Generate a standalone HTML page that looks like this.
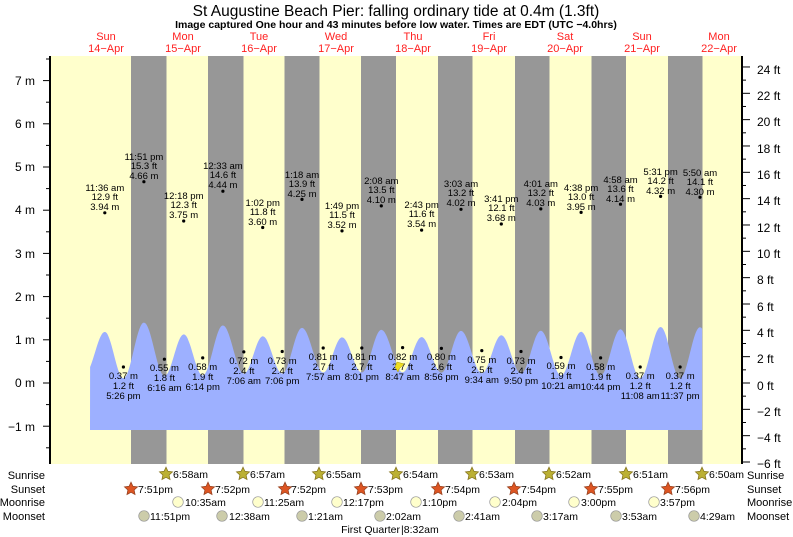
<!DOCTYPE html>
<html><head><meta charset="utf-8"><style>
body{margin:0;background:#fff;}
svg{display:block;font-family:"Liberation Sans",sans-serif;}
.hl text,.lo text{font-size:9.5px;text-anchor:middle;fill:#000;}
.day{fill:#ff2020;font-size:11px;text-anchor:middle;}
.ax{font-size:12px;fill:#000;}
.row{font-size:10.5px;fill:#000;}
.rl{font-size:11px;fill:#000;}
</style></head><body>
<svg id="s" width="793" height="537" viewBox="0 0 793 537" xmlns="http://www.w3.org/2000/svg">
<rect x="50" y="56" width="692" height="408" fill="#ffffcc"/>
<g fill="#979797">
<rect x="131" y="56" width="35.5" height="408"/><rect x="208" y="56" width="35.5" height="408"/>
<rect x="284.5" y="56" width="35" height="408"/><rect x="361" y="56" width="35" height="408"/>
<rect x="438" y="56" width="34.5" height="408"/><rect x="515" y="56" width="34.5" height="408"/>
<rect x="591.5" y="56" width="34.5" height="408"/><rect x="668" y="56" width="34.5" height="408"/>
</g>
<path id="tide" fill="#9db0ff" d=""/>
<line x1="50" y1="56" x2="50" y2="464" stroke="#000" stroke-width="2"/>
<line x1="742" y1="56" x2="742" y2="464" stroke="#000" stroke-width="2"/>
<g id="ticks" stroke="#000" stroke-width="1"></g>
<g class="ax" text-anchor="end">
<text x="35" y="85">7 m</text><text x="35" y="128">6 m</text><text x="35" y="171">5 m</text><text x="35" y="214">4 m</text><text x="35" y="258">3 m</text><text x="35" y="301">2 m</text><text x="35" y="344">1 m</text><text x="35" y="387">0 m</text><text x="35" y="431">−1 m</text>
</g>
<g class="ax">
<text x="757" y="74">24 ft</text><text x="757" y="100">22 ft</text><text x="757" y="126">20 ft</text><text x="757" y="153">18 ft</text><text x="757" y="179">16 ft</text><text x="757" y="205">14 ft</text><text x="757" y="232">12 ft</text><text x="757" y="258">10 ft</text><text x="757" y="284">8 ft</text><text x="757" y="311">6 ft</text><text x="757" y="337">4 ft</text><text x="757" y="363">2 ft</text><text x="757" y="390">0 ft</text><text x="757" y="416">−2 ft</text><text x="757" y="442">−4 ft</text><text x="757" y="468">−6 ft</text>
</g>
<text x="396" y="16" font-size="15.5" text-anchor="middle">St Augustine Beach Pier: falling  ordinary tide at 0.4m (1.3ft)</text>
<text x="396" y="28" font-size="10.5" font-weight="bold" text-anchor="middle">Image captured One hour and 43 minutes before low water. Times are EDT (UTC −4.0hrs)</text>
<g class="day">
<text x="106" y="40">Sun</text><text x="106" y="52">14−Apr</text>
<text x="183" y="40">Mon</text><text x="183" y="52">15−Apr</text>
<text x="259" y="40">Tue</text><text x="259" y="52">16−Apr</text>
<text x="336" y="40">Wed</text><text x="336" y="52">17−Apr</text>
<text x="413" y="40">Thu</text><text x="413" y="52">18−Apr</text>
<text x="489" y="40">Fri</text><text x="489" y="52">19−Apr</text>
<text x="565" y="40">Sat</text><text x="565" y="52">20−Apr</text>
<text x="642" y="40">Sun</text><text x="642" y="52">21−Apr</text>
<text x="719" y="40">Mon</text><text x="719" y="52">22−Apr</text>
</g>
<g class="hl">
<circle cx="104.8" cy="212.8" r="1.6"/><text x="104.8" y="191">11:36 am</text><text x="104.8" y="200">12.9 ft</text><text x="104.8" y="210">3.94 m</text>
<circle cx="143.9" cy="181.7" r="1.6"/><text x="143.9" y="160">11:51 pm</text><text x="143.9" y="169">15.3 ft</text><text x="143.9" y="179">4.66 m</text>
<circle cx="183.7" cy="221" r="1.6"/><text x="183.7" y="199">12:18 pm</text><text x="183.7" y="208">12.3 ft</text><text x="183.7" y="218">3.75 m</text>
<circle cx="222.9" cy="191.2" r="1.6"/><text x="222.9" y="169">12:33 am</text><text x="222.9" y="178">14.6 ft</text><text x="222.9" y="188">4.44 m</text>
<circle cx="262.7" cy="227.5" r="1.6"/><text x="262.7" y="206">1:02 pm</text><text x="262.7" y="215">11.8 ft</text><text x="262.7" y="225">3.60 m</text>
<circle cx="302" cy="199.4" r="1.6"/><text x="302" y="178">1:18 am</text><text x="302" y="187">13.9 ft</text><text x="302" y="197">4.25 m</text>
<circle cx="342" cy="230.9" r="1.6"/><text x="342" y="209">1:49 pm</text><text x="342" y="218">11.5 ft</text><text x="342" y="228">3.52 m</text>
<circle cx="381.3" cy="205.9" r="1.6"/><text x="381.3" y="184">2:08 am</text><text x="381.3" y="193">13.5 ft</text><text x="381.3" y="203">4.10 m</text>
<circle cx="421.6" cy="230.1" r="1.6"/><text x="421.6" y="208">2:43 pm</text><text x="421.6" y="217">11.6 ft</text><text x="421.6" y="227">3.54 m</text>
<circle cx="461" cy="209.3" r="1.6"/><text x="461" y="187">3:03 am</text><text x="461" y="196">13.2 ft</text><text x="461" y="206">4.02 m</text>
<circle cx="501.3" cy="224" r="1.6"/><text x="501.3" y="202">3:41 pm</text><text x="501.3" y="211">12.1 ft</text><text x="501.3" y="221">3.68 m</text>
<circle cx="540.8" cy="208.9" r="1.6"/><text x="540.8" y="187">4:01 am</text><text x="540.8" y="196">13.2 ft</text><text x="540.8" y="206">4.03 m</text>
<circle cx="581.1" cy="212.4" r="1.6"/><text x="581.1" y="191">4:38 pm</text><text x="581.1" y="200">13.0 ft</text><text x="581.1" y="210">3.95 m</text>
<circle cx="620.5" cy="204.2" r="1.6"/><text x="620.5" y="183">4:58 am</text><text x="620.5" y="192">13.6 ft</text><text x="620.5" y="202">4.14 m</text>
<circle cx="660.6" cy="196.4" r="1.6"/><text x="660.6" y="175">5:31 pm</text><text x="660.6" y="184">14.2 ft</text><text x="660.6" y="194">4.32 m</text>
<circle cx="700" cy="197.2" r="1.6"/><text x="700" y="176">5:50 am</text><text x="700" y="185">14.1 ft</text><text x="700" y="195">4.30 m</text>
</g>
<g class="lo">
<circle cx="123.4" cy="367" r="1.6"/><text x="123.4" y="379">0.37 m</text><text x="123.4" y="389">1.2 ft</text><text x="123.4" y="399">5:26 pm</text>
<circle cx="164.4" cy="359.2" r="1.6"/><text x="164.4" y="371">0.55 m</text><text x="164.4" y="381">1.8 ft</text><text x="164.4" y="391">6:16 am</text>
<circle cx="202.7" cy="357.9" r="1.6"/><text x="202.7" y="370">0.58 m</text><text x="202.7" y="380">1.9 ft</text><text x="202.7" y="390">6:14 pm</text>
<circle cx="243.8" cy="351.9" r="1.6"/><text x="243.8" y="364">0.72 m</text><text x="243.8" y="374">2.4 ft</text><text x="243.8" y="384">7:06 am</text>
<circle cx="282.2" cy="351.5" r="1.6"/><text x="282.2" y="364">0.73 m</text><text x="282.2" y="374">2.4 ft</text><text x="282.2" y="384">7:06 pm</text>
<circle cx="323.2" cy="348" r="1.6"/><text x="323.2" y="360">0.81 m</text><text x="323.2" y="370">2.7 ft</text><text x="323.2" y="380">7:57 am</text>
<circle cx="361.8" cy="348" r="1.6"/><text x="361.8" y="360">0.81 m</text><text x="361.8" y="370">2.7 ft</text><text x="361.8" y="380">8:01 pm</text>
<circle cx="402.6" cy="347.6" r="1.6"/><text x="402.6" y="360">0.82 m</text><text x="402.6" y="370">2.7 ft</text><text x="402.6" y="380">8:47 am</text>
<circle cx="441.4" cy="348.4" r="1.6"/><text x="441.4" y="360">0.80 m</text><text x="441.4" y="370">2.6 ft</text><text x="441.4" y="380">8:56 pm</text>
<circle cx="481.8" cy="350.6" r="1.6"/><text x="481.8" y="363">0.75 m</text><text x="481.8" y="373">2.5 ft</text><text x="481.8" y="383">9:34 am</text>
<circle cx="521" cy="351.5" r="1.6"/><text x="521" y="364">0.73 m</text><text x="521" y="374">2.4 ft</text><text x="521" y="384">9:50 pm</text>
<circle cx="561" cy="357.5" r="1.6"/><text x="561" y="369">0.59 m</text><text x="561" y="379">1.9 ft</text><text x="561" y="389">10:21 am</text>
<circle cx="600.6" cy="357.9" r="1.6"/><text x="600.6" y="370">0.58 m</text><text x="600.6" y="380">1.9 ft</text><text x="600.6" y="390">10:44 pm</text>
<circle cx="640.2" cy="367" r="1.6"/><text x="640.2" y="379">0.37 m</text><text x="640.2" y="389">1.2 ft</text><text x="640.2" y="399">11:08 am</text>
<circle cx="680.1" cy="367" r="1.6"/><text x="680.1" y="379">0.37 m</text><text x="680.1" y="389">1.2 ft</text><text x="680.1" y="399">11:37 pm</text>
</g>
<polygon points="397,362 404,364 399,369 398,372 395,367" fill="#eedd22" stroke="#aa9900" stroke-width="0.5"/>
<g class="rl" text-anchor="end">
<text x="45" y="479">Sunrise</text><text x="45" y="493">Sunset</text><text x="45" y="506">Moonrise</text><text x="45" y="520">Moonset</text>
</g>
<g class="rl">
<text x="747" y="479">Sunrise</text><text x="747" y="493">Sunset</text><text x="747" y="506">Moonrise</text><text x="747" y="520">Moonset</text>
</g>
<g id="icons"></g>
<g class="row">
<text x="173" y="478">6:58am</text><text x="250" y="478">6:57am</text><text x="326" y="478">6:55am</text><text x="403" y="478">6:54am</text><text x="479" y="478">6:53am</text><text x="556" y="478">6:52am</text><text x="633" y="478">6:51am</text><text x="709" y="478">6:50am</text>
<text x="138" y="493">7:51pm</text><text x="215" y="493">7:52pm</text><text x="291" y="493">7:52pm</text><text x="368" y="493">7:53pm</text><text x="445" y="493">7:54pm</text><text x="521" y="493">7:54pm</text><text x="598" y="493">7:55pm</text><text x="675" y="493">7:56pm</text>
<text x="185" y="506">10:35am</text><text x="264" y="506">11:25am</text><text x="343" y="506">12:17pm</text><text x="422" y="506">1:10pm</text><text x="502" y="506">2:04pm</text><text x="581" y="506">3:00pm</text><text x="660" y="506">3:57pm</text>
<text x="150" y="520">11:51pm</text><text x="229" y="520">12:38am</text><text x="308" y="520">1:21am</text><text x="386" y="520">2:02am</text><text x="465" y="520">2:41am</text><text x="543" y="520">3:17am</text><text x="622" y="520">3:53am</text><text x="700" y="520">4:29am</text>
<text x="400" y="533" text-anchor="end">First Quarter</text><text x="401" y="533">|8:32am</text>
</g>
</svg>
<script>
(function(){
var ns="http://www.w3.org/2000/svg";
var E=[[5.4,0.22/0.3],[11.6,3.94],[17.43,0.37],[23.85,4.66],[30.27,0.55],[36.3,3.75],[42.23,0.58],[48.55,4.44],[55.1,0.72],[61.03,3.60],[67.1,0.73],[73.3,4.25],[79.95,0.81],[85.82,3.52],[92.02,0.81],[98.13,4.10],[104.78,0.82],[110.72,3.54],[116.93,0.80],[123.05,4.02],[129.57,0.75],[135.68,3.68],[141.83,0.73],[148.02,4.03],[154.35,0.59],[160.63,3.95],[166.73,0.58],[172.97,4.14],[179.13,0.37],[185.52,4.32],[191.62,0.37],[197.83,4.30],[204,0.4]];
function X(t){return 67.7+3.196*t;}
function H(t){for(var i=0;i<E.length-1;i++){if(t>=E[i][0]&&t<=E[i+1][0]){var f=(t-E[i][0])/(E[i+1][0]-E[i][0]);var a=E[i][1],b=E[i+1][1];return 0.3*(a+(b-a)*(1-Math.cos(Math.PI*f))/2);}}return 0;}
var d="M90,430";
for(var t=7;t<=198.5;t+=0.25){d+=" L"+X(t).toFixed(1)+","+(383-43.2*H(t)).toFixed(1);}
d+=" L702,430 Z";
document.getElementById("tide").setAttribute("d",d);
var g=document.getElementById("ticks");
function ln(x1,y1,x2,y2){var l=document.createElementNS(ns,"line");l.setAttribute("x1",x1);l.setAttribute("y1",y1);l.setAttribute("x2",x2);l.setAttribute("y2",y2);g.appendChild(l);}
for(var m=-1.5;m<=7.5;m+=0.5){var y=383-43.2*m;if(y<56||y>464)continue;ln(Number.isInteger(m)?43:46,y,50,y);}
for(var f=-6;f<=24;f+=1){var y=383-13.168*f;if(y<56||y>464)continue;ln(742,y,f%2==0?750:746,y);}
var ic=document.getElementById("icons");
function star(cx,cy,fill,stroke){var p=[];for(var i=0;i<10;i++){var r=i%2?3.3:6.8;var a=-Math.PI/2+i*Math.PI/5;p.push((cx+r*Math.cos(a)).toFixed(1)+","+(cy+r*Math.sin(a)).toFixed(1));}var e=document.createElementNS(ns,"polygon");e.setAttribute("points",p.join(" "));e.setAttribute("fill",fill);e.setAttribute("stroke",stroke);e.setAttribute("stroke-width","0.8");ic.appendChild(e);}
function circ(cx,cy,fill){var e=document.createElementNS(ns,"circle");e.setAttribute("cx",cx);e.setAttribute("cy",cy);e.setAttribute("r",5.3);e.setAttribute("fill",fill);e.setAttribute("stroke","#999");e.setAttribute("stroke-width","0.7");ic.appendChild(e);}
[166,243,319,396,472,549,626,702].forEach(function(x){star(x,474,"#bbb033","#887722");});
[131,208,285,361,438,514,591,668].forEach(function(x){star(x,489,"#dd5522","#994422");});
[178,258,337,416,495,574,654].forEach(function(x){circ(x,502,"#ffffcc");});
[144,222,302,380,459,537,616,694].forEach(function(x){circ(x,516,"#ccccaa");});
})();
</script>
</body></html>
